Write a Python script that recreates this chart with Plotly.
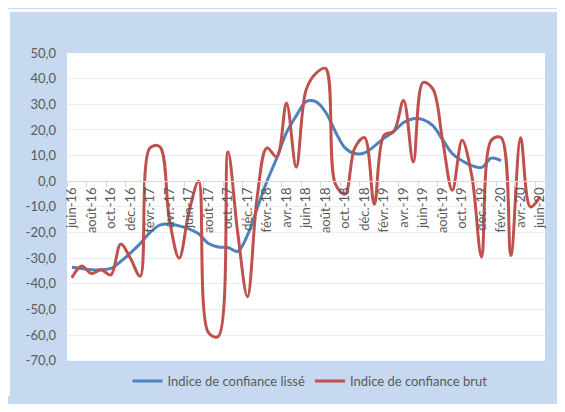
import plotly.graph_objects as go

# monthly categories, juin-16 .. juin-20
months = ["juin-16", "juil.-16", "août-16", "sept.-16", "oct.-16", "nov.-16", "déc.-16",
          "janv.-17", "févr.-17", "mars-17", "avr.-17", "mai-17", "juin-17", "juil.-17",
          "août-17", "sept.-17", "oct.-17", "nov.-17", "déc.-17",
          "janv.-18", "févr.-18", "mars-18", "avr.-18", "mai-18", "juin-18", "juil.-18",
          "août-18", "sept.-18", "oct.-18", "nov.-18", "déc.-18",
          "janv.-19", "févr.-19", "mars-19", "avr.-19", "mai-19", "juin-19", "juil.-19",
          "août-19", "sept.-19", "oct.-19", "nov.-19", "déc.-19",
          "janv.-20", "févr.-20", "mars-20", "avr.-20", "mai-20", "juin-20"]

lisse = [-33.5, -34, -34.5, -34.5, -34, -31.3, -28, -24.3, -20, -17.1, -16.7, -17.4,
         -18.6, -20.5, -24.3, -25.6, -25.8, -27.3, -21, -10.5, 0, 9, 19, 25.5,
         31, 31, 27, 19.4, 13, 10.8, 11.1, 13.7, 16.8, 19.4, 22.9, 24.4, 24,
         21.7, 16.2, 10.8, 8, 6.1, 5.4, 9, 8]

brut = [-37.6, -33, -36, -34.5, -36.5, -24.5, -30, -37, 13, 13.5, -15, -30,
        -12, 0, -59, -60.5, 11.5, -20, -45, -6, 13, 9.5, 30.5, 5.5,
        35.5, 42, 44, -1, -5, 13, 17, -9, 18, 19.5, 31.5, 7.5, 38.5,
        36, 16, -3.5, 16, 2, -29.5, 16, 17, -29, 17, -10, -6]

y_ticks = list(range(-70, 51, 10))
y_labels = [f"{v:.1f}".replace(".", ",") for v in y_ticks]

grey = "#595959"
bg_blue = "#C6D9F0"
# the page body keeps its 8px margin: size the figure so the page does not overflow
W, H = 557, 396
ml, mr, mt, mb = 59, 20, 45, 0
pw, ph = W - ml - mr, H - mt - mb
plot_bottom = 36          # px between plot area and figure bottom (legend lives there)
y_dom0 = plot_bottom / ph

fig = go.Figure()
fig.add_trace(go.Scatter(x=months[:len(lisse)], y=lisse, mode="lines",
                         name="Indice de confiance lissé",
                         line=dict(color="#4F81BD", width=3, shape="spline", smoothing=1)))
fig.add_trace(go.Scatter(x=months, y=brut, mode="lines",
                         name="Indice de confiance brut",
                         line=dict(color="#C0504D", width=3, shape="spline", smoothing=1)))

# x axis crosses at y = 0
x_pos = y_dom0 + (1 - y_dom0) * (0 - y_ticks[0]) / (y_ticks[-1] - y_ticks[0])

fig.update_xaxes(type="category", categoryorder="array", categoryarray=months,
                 range=[-0.5, len(months) - 0.5],
                 tickmode="linear", tick0=0, dtick=2, tickangle=-90,
                 tickson="boundaries", ticks="outside", ticklen=5, tickcolor="#D9D9D9",
                 showline=True, linecolor="#D9D9D9", linewidth=1,
                 showgrid=False, anchor="free", position=x_pos,
                 tickfont=dict(family="Lato", size=13, color=grey))
fig.update_yaxes(range=[-70, 50], domain=[y_dom0, 1],
                 tickmode="array", tickvals=y_ticks, ticktext=y_labels,
                 showgrid=True, gridcolor="#EDEDED", zeroline=False, showline=False,
                 ticks="", ticklabelstandoff=10,
                 tickfont=dict(family="Lato", size=13, color=grey))

# thin white strips at top and left outside the blue chart frame
fig.add_shape(type="rect", xref="paper", yref="paper", layer="below",
              x0=-ml / pw, x1=(W - ml) / pw, y0=1 + (mt - 3) / ph, y1=1 + mt / ph,
              fillcolor="white", line_width=0)
fig.add_shape(type="rect", xref="paper", yref="paper", layer="below",
              x0=-ml / pw, x1=(2 - ml) / pw, y0=0, y1=1 + mt / ph,
              fillcolor="white", line_width=0)

fig.update_layout(width=W, height=H,
                  margin=dict(l=ml, r=mr, t=mt, b=mb),
                  paper_bgcolor=bg_blue, plot_bgcolor="white",
                  font=dict(family="Lato", size=13, color=grey),
                  showlegend=True,
                  legend=dict(orientation="h",
                              x=(302 - ml) / pw, xanchor="center",
                              y=0, yanchor="bottom",
                              bgcolor="rgba(0,0,0,0)",
                              font=dict(family="Lato", size=13, color=grey),
                              itemwidth=30, tracegroupgap=0))
fig.write_html("out.html")
